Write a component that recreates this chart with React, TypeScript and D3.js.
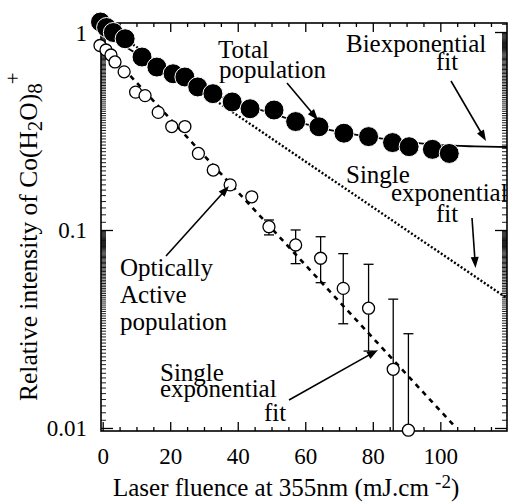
import React from 'react';
import * as d3 from 'd3';

// ---- data ----
const totalX = [-0.8, 1, 3, 6.5, 11.5, 15.9, 20.7, 24.2, 28, 32.5, 38.2, 43.5, 50.6, 57, 63.9, 71.3, 78.6, 85.7, 90.6, 97.5, 102.5];
const totalY = [1.13, 1.06, 1.0, 0.93, 0.752, 0.669, 0.619, 0.596, 0.531, 0.491, 0.446, 0.412, 0.406, 0.355, 0.334, 0.31, 0.298, 0.278, 0.265, 0.257, 0.245];

const activeX = [-0.95, 0.83, 2.3, 3.5, 6.2, 9.6, 12.4, 16.3, 20.3, 24.2, 28.2, 32.6, 37.6, 44, 49.1, 57, 64.4, 71.1, 78.6, 85.9, 90.4];
const activeY = [0.86, 0.816, 0.77, 0.71, 0.633, 0.5, 0.48, 0.395, 0.335, 0.335, 0.245, 0.202, 0.17, 0.148, 0.1045, 0.0845, 0.0724, 0.051, 0.0405, 0.0199, 0.0098];

const errX = [49.1, 57, 64.4, 71.1, 78.6, 85.9, 90.4];
const errLow = [0.095, 0.068, 0.0545, 0.0338, 0.0246, 0.005, 0.005];
const errHigh = [0.113, 0.1006, 0.093, 0.0764, 0.0675, 0.045, 0.0301];

const biexpX = [0, 10, 20, 30, 40, 50, 60, 70, 80, 90, 100, 110, 120];
const biexpY = [1.0, 0.78, 0.625, 0.515, 0.44, 0.39, 0.345, 0.315, 0.295, 0.28, 0.27, 0.266, 0.264];

const singleTotalX = [0, 120];
const singleTotalY = [1.1, 0.045];

const singleActiveX = [0, 104];
const singleActiveY = [0.85, 0.0103];

const xTickLabels = [0, 20, 40, 60, 80, 100];
const yTickLabels = [1, 0.1, 0.01];

// ---- layout ----
const W = 508, H = 502;
const L = 101, R = 507, T = 23, B = 431;
const FONT = 'Liberation Serif, Times New Roman, Times, serif';

const x = d3.scaleLinear().domain([-0.65, 119.6]).range([L, R]);
const y = d3.scaleLog().domain([0.00971, 1.117]).range([B, T]);

function Arrow({ x1, y1, x2, y2 }: { x1: number; y1: number; x2: number; y2: number }) {
  const dx = x2 - x1, dy = y2 - y1;
  const len = Math.hypot(dx, dy);
  const ux = dx / len, uy = dy / len;
  const hl = 11, hw = 4;
  const bx = x2 - ux * hl, by = y2 - uy * hl;
  const p = `${x2},${y2} ${bx - uy * hw},${by + ux * hw} ${bx + uy * hw},${by - ux * hw}`;
  return (
    <g>
      <line x1={x1} y1={y1} x2={bx + ux * 2} y2={by + uy * 2} stroke="#000" strokeWidth={1.6} />
      <polygon points={p} fill="#000" />
    </g>
  );
}

export default function App() {
  const xMinor = d3.range(0, 120, 5);
  const yMinor: number[] = [];
  for (let k = 11; k < 100; k++) yMinor.push(k * 0.001);
  for (let k = 11; k < 100; k++) yMinor.push(k * 0.01);
  yMinor.push(1.1);

  const line = d3.line<[number, number]>().x(d => x(d[0])).y(d => y(d[1]));
  const biexpPath = d3.line<[number, number]>().x(d => x(d[0])).y(d => y(d[1])).curve(d3.curveMonotoneX)(
    biexpX.map((v, i) => [v, biexpY[i]] as [number, number])
  )!;
  const singleTotalPath = line(singleTotalX.map((v, i) => [v, singleTotalY[i]] as [number, number]))!;
  const singleActivePath = line(singleActiveX.map((v, i) => [v, singleActiveY[i]] as [number, number]))!;

  return (
    <svg width={W} height={H} style={{ position: 'absolute', left: 0, top: 0, background: '#fff', fontFamily: FONT }}>
      <defs>
        <clipPath id="plot">
          <rect x={L} y={T} width={R - L} height={B - T} />
        </clipPath>
      </defs>
      <rect x={0} y={0} width={W} height={H} fill="#fff" />

      {/* fit lines */}
      <g clipPath="url(#plot)" fill="none" stroke="#000">
        <path d={singleTotalPath} strokeWidth={2.4} strokeDasharray="2,2" />
        <path d={singleActivePath} strokeWidth={2.6} strokeDasharray="5,5" />
        <path d={biexpPath} strokeWidth={1.8} />
        {errX.map((v, i) => (
          <g key={i} strokeWidth={1.3}>
            <line x1={x(v)} x2={x(v)} y1={y(errLow[i])} y2={y(errHigh[i])} />
            <line x1={x(v) - 5} x2={x(v) + 5} y1={y(errHigh[i])} y2={y(errHigh[i])} />
            <line x1={x(v) - 5} x2={x(v) + 5} y1={y(errLow[i])} y2={y(errLow[i])} />
          </g>
        ))}
      </g>

      {/* frame */}
      <rect x={L} y={T} width={R - L} height={B - T} fill="none" stroke="#000" strokeWidth={1.6} />

      {/* ticks */}
      <g stroke="#000" strokeWidth={1.3}>
        {xMinor.map(v => {
          const major = v % 20 === 0;
          const len = major ? 9 : 4;
          return (
            <g key={v}>
              <line x1={x(v)} x2={x(v)} y1={B} y2={B - len} />
              <line x1={x(v)} x2={x(v)} y1={T} y2={T + len} />
            </g>
          );
        })}
        {yMinor.map((v, i) => (
          <g key={i} strokeWidth={0.9}>
            <line x1={L} x2={L + 5} y1={y(v)} y2={y(v)} />
            <line x1={R} x2={R - 5} y1={y(v)} y2={y(v)} />
          </g>
        ))}
        {yTickLabels.map(v => (
          <g key={v}>
            <line x1={L} x2={L + 12} y1={y(v)} y2={y(v)} />
            <line x1={R} x2={R - 12} y1={y(v)} y2={y(v)} />
          </g>
        ))}
      </g>

      {/* tick labels */}
      <g fontSize={23} fill="#000">
        {xTickLabels.map(v => (
          <text key={v} x={x(v)} y={464} textAnchor="middle">{v}</text>
        ))}
        {yTickLabels.map(v => (
          <text key={v} x={87} y={y(v) + 8} textAnchor="end">{v}</text>
        ))}
      </g>

      {/* points: filled (total population) */}
      <g>
        {totalX.map((v, i) => (
          <circle key={i} cx={x(v)} cy={y(totalY[i])} r={10} fill="#000" stroke="#fff" strokeWidth={1} />
        ))}
      </g>
      {/* points: open (optically active population) */}
      <g>
        {activeX.map((v, i) => (
          <circle key={i} cx={x(v)} cy={y(activeY[i])} r={6} fill="#fff" stroke="#000" strokeWidth={1.3} />
        ))}
      </g>

      {/* annotations */}
      <g fontSize={25} fill="#000">
        <text x={218} y={58}>Total</text>
        <text x={219} y={77.5}>population</text>
        <text x={346} y={52}>Biexponential</text>
        <text x={436} y={70}>fit</text>
        <text x={346} y={183}>Single</text>
        <text x={391} y={201}>exponential</text>
        <text x={436} y={222}>fit</text>
        <text x={120} y={276}>Optically</text>
        <text x={120} y={303}>Active</text>
        <text x={120} y={329.5}>population</text>
        <text x={160} y={381}>Single</text>
        <text x={160} y={397}>exponential</text>
        <text x={264} y={421}>fit</text>
      </g>
      <Arrow x1={287} y1={83} x2={318} y2={120} />
      <Arrow x1={451} y1={81} x2={486} y2={141} />
      <Arrow x1={472} y1={218} x2={475.5} y2={268} />
      <Arrow x1={166} y1={256} x2={229} y2={186} />
      <Arrow x1={289} y1={400} x2={378} y2={350} />

      {/* axis titles */}
      <text x={113} y={496} fontSize={25}>
        Laser fluence at 355nm (mJ.cm <tspan dy={-8} fontSize={19}>-2</tspan><tspan dy={8}>)</tspan>
      </text>
      <text transform="translate(37,401) rotate(-90)" fontSize={25.5}>
        Relative intensity of Co(H<tspan dy={5} fontSize={21}>2</tspan><tspan dy={-5}>O)</tspan>
        <tspan dy={5} fontSize={21}>8</tspan><tspan dx={-1} dy={-22} fontSize={21}>+</tspan>
      </text>
    </svg>
  );
}
